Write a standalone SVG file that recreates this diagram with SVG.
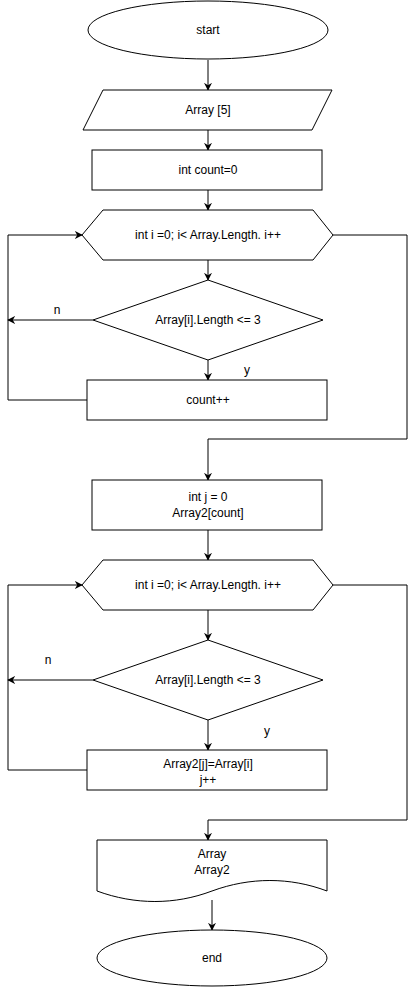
<svg xmlns="http://www.w3.org/2000/svg" width="416" height="991" viewBox="0 0 416 991">
<style>
.s{fill:#fff;stroke:#000;stroke-width:1}
.t{font-family:"Liberation Sans",Arial,sans-serif;font-size:12px;fill:#000;text-anchor:middle;dominant-baseline:central}
.c{fill:none;stroke:#000;stroke-width:1}
</style>
<defs>
<marker id="a" viewBox="0 0 10 10" refX="9" refY="5" markerWidth="8" markerHeight="8" markerUnits="userSpaceOnUse" orient="auto">
<path d="M0,0 L10,5 L0,10 L3,5 Z" fill="#000"/>
</marker>
</defs>
<g id="connectors">
<path class="c" d="M208,60 V90" marker-end="url(#a)"/>
<path class="c" d="M208,130 V150" marker-end="url(#a)"/>
<path class="c" d="M208,190 V210" marker-end="url(#a)"/>
<path class="c" d="M208,260 V280" marker-end="url(#a)"/>
<path class="c" d="M93,320 H8" marker-end="url(#a)"/>
<path class="c" d="M208,360 V380" marker-end="url(#a)"/>
<path class="c" d="M87,400 H8 V235 H82" marker-end="url(#a)"/>
<path class="c" d="M333,235 H407 V439 H208 V480" marker-end="url(#a)"/>
<path class="c" d="M208,530 V560" marker-end="url(#a)"/>
<path class="c" d="M208,610 V640" marker-end="url(#a)"/>
<path class="c" d="M93,680 H8" marker-end="url(#a)"/>
<path class="c" d="M208,720 V750" marker-end="url(#a)"/>
<path class="c" d="M87,770 H8 V585 H82" marker-end="url(#a)"/>
<path class="c" d="M333,585 H407 V820 H208 V840" marker-end="url(#a)"/>
<path class="c" d="M212,900 V930" marker-end="url(#a)"/>
<text class="t" x="57" y="310">n</text>
<text class="t" x="247" y="370">y</text>
<text class="t" x="48" y="660">n</text>
<text class="t" x="267" y="731">y</text>
</g>
<g id="start">
<ellipse class="s" cx="208" cy="30" rx="120" ry="29"/>
<text class="t" x="208" y="30">start</text>
</g>
<g id="input">
<polygon class="s" points="103,90 332,90 312,130 83,130"/>
<text class="t" x="208" y="110">Array [5]</text>
</g>
<g id="count0">
<rect class="s" x="92" y="150" width="230" height="40"/>
<text class="t" x="208" y="170">int count=0</text>
</g>
<g id="loop1">
<polygon class="s" points="103,210 313,210 333,235 313,260 103,260 82,235"/>
<text class="t" x="208" y="235">int i =0; i&lt; Array.Length. i++</text>
</g>
<g id="cond1">
<polygon class="s" points="208,280 323,320 208,360 93,320"/>
<text class="t" x="208" y="320">Array[i].Length &lt;= 3</text>
</g>
<g id="countinc">
<rect class="s" x="87" y="380" width="240" height="40"/>
<text class="t" x="208" y="400">count++</text>
</g>
<g id="init2">
<rect class="s" x="92" y="480" width="230" height="50"/>
<text class="t" x="208" y="497">int j = 0</text>
<text class="t" x="208" y="513">Array2[count]</text>
</g>
<g id="loop2">
<polygon class="s" points="103,560 313,560 333,585 313,610 103,610 82,585"/>
<text class="t" x="208" y="585">int i =0; i&lt; Array.Length. i++</text>
</g>
<g id="cond2">
<polygon class="s" points="208,640 323,680 208,720 93,680"/>
<text class="t" x="208" y="680">Array[i].Length &lt;= 3</text>
</g>
<g id="assign">
<rect class="s" x="87" y="750" width="240" height="40"/>
<text class="t" x="208" y="764">Array2[j]=Array[i]</text>
<text class="t" x="208" y="780">j++</text>
</g>
<g id="output">
<path class="s" d="M97,840 H327 V891 C290,877 250,877 212,891 C175,905 135,905 97,891 Z"/>
<text class="t" x="212" y="854">Array</text>
<text class="t" x="212" y="870">Array2</text>
</g>
<g id="end">
<ellipse class="s" cx="212" cy="958" rx="115" ry="28"/>
<text class="t" x="212" y="958">end</text>
</g>
</svg>
